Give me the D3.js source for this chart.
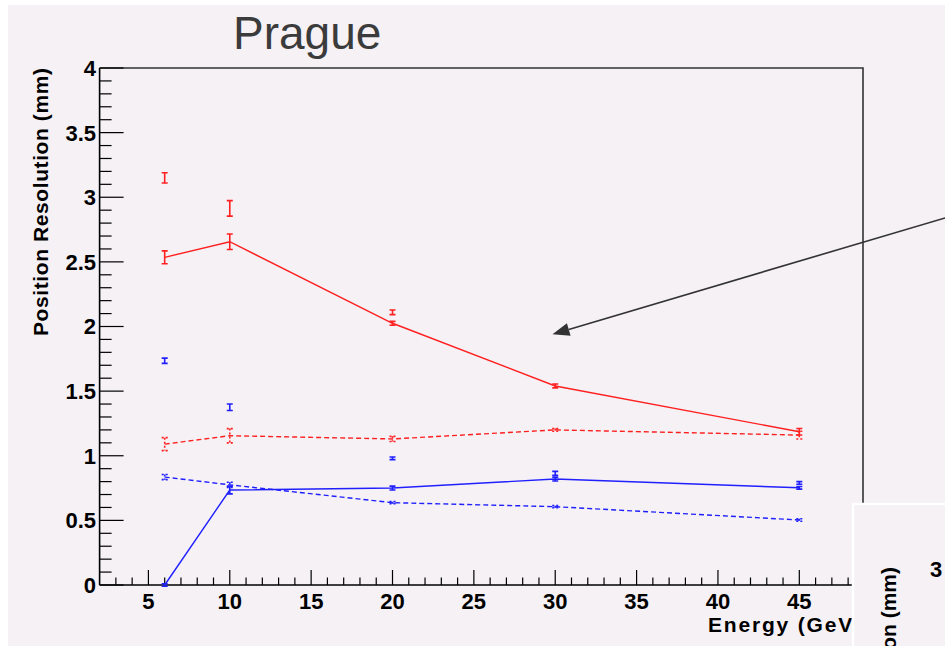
<!DOCTYPE html>
<html>
<head>
    <title>Prague</title>
    <script src="https://d3js.org/d3.v7.min.js"></script>
    <style>
        body { margin: 0; background: #fff; }
        text { font-family: "Liberation Sans", Arial, sans-serif; }
        .tick-label { font-weight: bold; font-size: 22px; fill: #000; }
        .axis-title { font-weight: bold; font-size: 21px; fill: #000; }
    </style>
</head>
<body>
    <div id="chart"></div>
    <script>
        // Values
        var energy = [6, 10, 20, 30, 45];

        var redSolid = [2.535, 2.656, 2.025, 1.54, 1.186];
        var redSolidErr = [0.05, 0.06, 0.015, 0.015, 0.025];
        var redExtraE = [6, 10, 20];
        var redExtra = [3.15, 2.914, 2.11];
        var redExtraErr = [0.04, 0.06, 0.018];
        var redDashed = [1.09, 1.155, 1.13, 1.20, 1.16];
        var redDashedErr = [0.05, 0.055, 0.02, 0.01, 0.03];

        var blueSolid = [0.0, 0.735, 0.75, 0.82, 0.752];
        var blueSolidErr = [0.01, 0.03, 0.015, 0.015, 0.01];
        var blueExtra = [1.735, 1.375, 0.98, 0.864, 0.79];
        var blueExtraErr = [0.02, 0.025, 0.01, 0.015, 0.01];
        var blueDashed = [0.835, 0.775, 0.637, 0.606, 0.503];
        var blueDashedErr = [0.02, 0.02, 0.008, 0.008, 0.01];

        var xTicks = [5, 10, 15, 20, 25, 30, 35, 40, 45];
        var yTicks = [0, 0.5, 1, 1.5, 2, 2.5, 3, 3.5, 4];

        // arrow annotation, in data units
        var arrowFrom = [53.96, 2.84], arrowTo = [29.83, 1.94];

        var W = 945, H = 646;
        var svg = d3.select("#chart").append("svg")
            .attr("width", W)
            .attr("height", H);

        // pad background
        svg.append("rect").attr("x", 8).attr("y", 5).attr("width", W - 8).attr("height", H - 5)
            .style("fill", "#f5f1f5");

        var x = d3.scaleLinear().domain([2, 49]).range([99.6, 864.4]);
        var y = d3.scaleLinear().domain([0, 4]).range([585, 68]);

        // frame (top and right)
        svg.append("path")
            .attr("d", "M" + x(2) + "," + y(4) + "H" + 863 + "V" + y(0))
            .style("fill", "none").style("stroke", "#333").style("stroke-width", 1.6);

        // x axis
        var gx = svg.append("g");
        gx.append("line").attr("x1", x(2)).attr("x2", 863).attr("y1", y(0)).attr("y2", y(0))
            .style("stroke", "#000").style("stroke-width", 1.6);
        d3.range(3, 49).forEach(function (v) {
            var major = v % 5 == 0;
            gx.append("line")
                .attr("x1", x(v)).attr("x2", x(v))
                .attr("y1", y(0)).attr("y2", y(0) - (major ? 15 : 7.5))
                .style("stroke", "#000").style("stroke-width", 1.2);
        });
        gx.selectAll("text.xl").data(xTicks).enter().append("text")
            .attr("class", "tick-label")
            .attr("x", function (d) { return x(d); })
            .attr("y", 609)
            .style("text-anchor", "middle")
            .text(function (d) { return d; });

        // y axis
        var gy = svg.append("g");
        gy.append("line").attr("x1", x(2)).attr("x2", x(2)).attr("y1", y(0)).attr("y2", y(4))
            .style("stroke", "#000").style("stroke-width", 1.6);
        d3.range(0, 41).forEach(function (i) {
            var major = i % 5 == 0;
            gy.append("line")
                .attr("x1", x(2)).attr("x2", x(2) + (major ? 24 : 12))
                .attr("y1", y(i / 10)).attr("y2", y(i / 10))
                .style("stroke", "#000").style("stroke-width", 1.2);
        });
        gy.selectAll("text.yl").data(yTicks).enter().append("text")
            .attr("class", "tick-label")
            .attr("x", 96)
            .attr("y", function (d) { return y(d); })
            .attr("dy", "0.36em")
            .style("text-anchor", "end")
            .text(function (d) { return d; });

        // axis titles
        svg.append("text").attr("class", "axis-title")
            .attr("transform", "translate(48,68) rotate(-90)")
            .style("text-anchor", "end")
            .attr("textLength", 268)
            .text("Position Resolution (mm)");
        svg.append("text").attr("class", "axis-title")
            .attr("x", 861).attr("y", 632)
            .style("text-anchor", "end")
            .attr("textLength", 153)
            .text("Energy (GeV)");

        // title
        svg.append("text")
            .attr("x", 233).attr("y", 49)
            .style("font-size", "46px")
            .style("fill", "#3b3b3b")
            .text("Prague");

        // series
        function drawSeries(es, vals, errs, color, dashed, withLine) {
            var pts = es.map(function (e, i) { return { e: e, v: vals[i], err: errs[i] }; });
            var g = svg.append("g");
            var dash = dashed ? "5,3" : null;
            if (withLine) {
                g.append("path")
                    .attr("d", d3.line().x(function (d) { return x(d.e); }).y(function (d) { return y(d.v); })(pts))
                    .style("fill", "none").style("stroke", color).style("stroke-width", 1.4)
                    .style("stroke-dasharray", dash);
            }
            pts.forEach(function (d) {
                var cx = x(d.e), y1 = y(d.v + d.err), y2 = y(d.v - d.err);
                var p = "M" + cx + "," + y1 + "V" + y2 +
                    "M" + (cx - 3) + "," + y1 + "H" + (cx + 3) +
                    "M" + (cx - 3) + "," + y2 + "H" + (cx + 3);
                g.append("path").attr("d", p)
                    .style("fill", "none").style("stroke", color).style("stroke-width", 1.6)
                    .style("stroke-dasharray", dashed ? "2,2" : null);
            });
        }

        drawSeries(redExtraE, redExtra, redExtraErr, "#ff2020", false, false);
        drawSeries(energy, redSolid, redSolidErr, "#ff2020", false, true);
        drawSeries(energy, redDashed, redDashedErr, "#ff2020", true, true);
        drawSeries(energy, blueExtra, blueExtraErr, "#2020ff", false, false);
        drawSeries(energy, blueSolid, blueSolidErr, "#2020ff", false, true);
        drawSeries(energy, blueDashed, blueDashedErr, "#2020ff", true, true);

        // arrow
        var ax1 = x(arrowFrom[0]), ay1 = y(arrowFrom[1]), ax2 = x(arrowTo[0]), ay2 = y(arrowTo[1]);
        var ang = Math.atan2(ay2 - ay1, ax2 - ax1);
        var hl = 17, hw = 6.5;
        var bx = ax2 - hl * Math.cos(ang), by = ay2 - hl * Math.sin(ang);
        svg.append("line").attr("x1", ax1).attr("y1", ay1).attr("x2", bx).attr("y2", by)
            .style("stroke", "#333").style("stroke-width", 1.6);
        svg.append("path")
            .attr("d", "M" + ax2 + "," + ay2 +
                "L" + (bx + hw * Math.sin(ang)) + "," + (by - hw * Math.cos(ang)) +
                "L" + (bx - hw * Math.sin(ang)) + "," + (by + hw * Math.cos(ang)) + "Z")
            .style("fill", "#333");

        // neighbouring panel peeking in at the bottom right
        var panel = svg.append("g");
        panel.append("rect").attr("x", 853).attr("y", 504).attr("width", 100).attr("height", 150)
            .style("fill", "#f5f1f5").style("stroke", "#fff").style("stroke-width", 2.5);
        panel.append("text").attr("class", "tick-label")
            .attr("x", 930).attr("y", 577).text("3");
        panel.append("text").attr("class", "axis-title")
            .attr("transform", "translate(896,567) rotate(-90)")
            .style("text-anchor", "end")
            .text("Position Resolution (mm)");
    </script>
</body>
</html>
